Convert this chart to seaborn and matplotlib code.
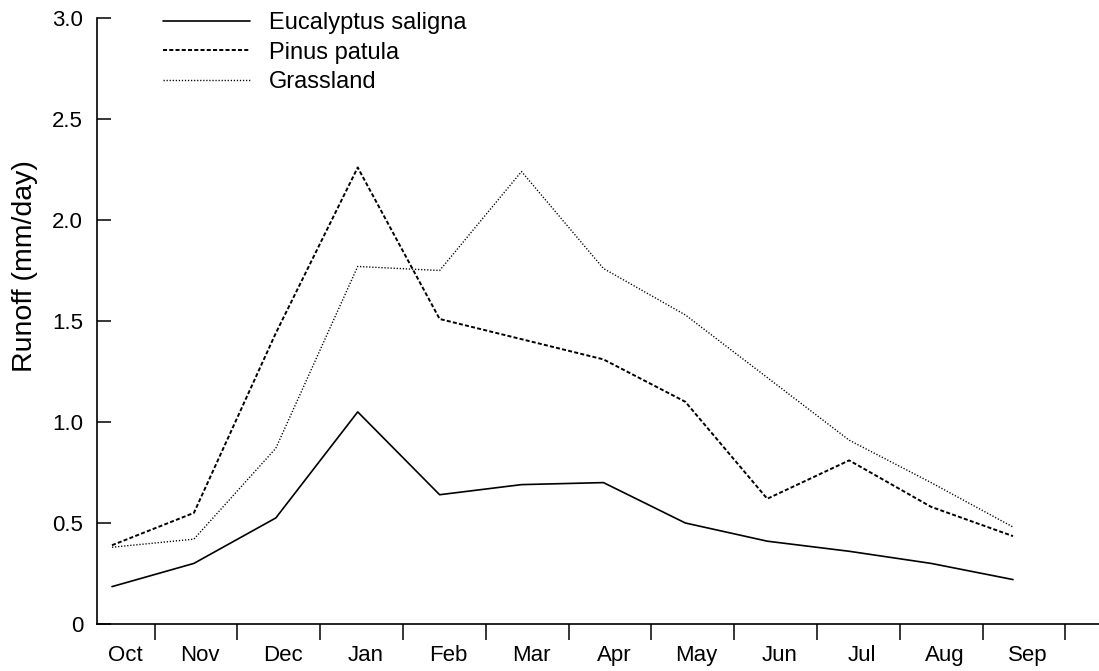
import numpy as np
import pandas as pd
import matplotlib
matplotlib.use("Agg")
import matplotlib.pyplot as plt
import seaborn as sns

# Mean daily runoff per month over the hydrological year (Oct-Sep)
months = ["Oct", "Nov", "Dec", "Jan", "Feb", "Mar", "Apr", "May", "Jun", "Jul", "Aug", "Sep"]
eucalyptus = [0.185, 0.30, 0.525, 1.05, 0.64, 0.69, 0.70, 0.50, 0.41, 0.36, 0.30, 0.22]
pinus = [0.39, 0.55, 1.44, 2.26, 1.51, 1.41, 1.31, 1.10, 0.62, 0.81, 0.58, 0.435]
grassland = [0.38, 0.42, 0.87, 1.77, 1.75, 2.24, 1.76, 1.53, 1.22, 0.91, 0.70, 0.48]
series_names = ["Eucalyptus saligna", "Pinus patula", "Grassland"]
y_ticks = [0, 0.5, 1.0, 1.5, 2.0, 2.5, 3.0]
y_tick_labels = ["0", "0.5", "1.0", "1.5", "2.0", "2.5", "3.0"]

sns.set_theme(style="ticks", rc={
    "text.color": "black", "axes.labelcolor": "black",
    "xtick.color": "black", "ytick.color": "black",
    "axes.edgecolor": "black",
})
plt.rcParams["font.family"] = ["Liberation Sans", "DejaVu Sans"]
plt.rcParams["lines.scale_dashes"] = False

n = len(months)
df = pd.DataFrame({
    "month_idx": np.tile(np.arange(n), 3),
    "runoff": eucalyptus + pinus + grassland,
    "cover": np.repeat(series_names, n),
})

W, H = 1099, 671
fig = plt.figure(figsize=(W / 100, H / 100), dpi=100)
ax = fig.add_axes([97 / W, 47 / H, (W - 97) / W, 606 / H])

line_dashes = {
    "Eucalyptus saligna": "",
    "Pinus patula": (2.9, 1.6),
    "Grassland": (0.9, 1.3),
}
sns.lineplot(data=df, x="month_idx", y="runoff", hue="cover", style="cover",
             palette={s: "black" for s in series_names}, dashes=line_dashes,
             hue_order=series_names, style_order=series_names,
             legend=False, ax=ax)
for line, lw in zip(ax.lines, [1.2, 1.4, 1.0]):
    line.set_linewidth(lw)

# Axes frame: only left and bottom
for side in ["top", "right"]:
    ax.spines[side].set_visible(False)
for side in ["left", "bottom"]:
    ax.spines[side].set_linewidth(1.2)

x_left, x_right = -0.183, 12.05
ax.set_xlim(x_left, x_right)
ax.set_ylim(0, 3.0)

# Month boundary ticks (major) and month names between them (minor)
tick_pos = np.arange(n) * 1.011 + 0.52
label_pos = tick_pos - 0.46
label_pos[0] = (x_left + tick_pos[0]) / 2
ax.set_xticks(tick_pos)
ax.set_xticklabels([])
ax.set_xticks(label_pos, minor=True)
ax.set_xticklabels(months, minor=True)
ax.tick_params(axis="x", which="major", direction="out", length=11.5, width=1.1)
ax.tick_params(axis="x", which="minor", length=0, pad=15, labelsize=16)

ax.set_yticks(y_ticks)
ax.set_yticklabels(y_tick_labels)
ax.tick_params(axis="y", direction="in", length=10, width=1.1, pad=10, labelsize=16)

ax.set_xlabel("")
ax.set_ylabel("Runoff (mm/day)", fontsize=20.5)
ax.yaxis.set_label_coords(-0.059, 0.59)

ax.legend(handles=ax.lines[:3], labels=series_names, loc="upper left",
          bbox_to_anchor=(163 / W, 1 - 12 / H), bbox_transform=fig.transFigure,
          frameon=False, fontsize=17, handlelength=3.69, handletextpad=0.78,
          labelspacing=0.32, borderpad=0, borderaxespad=0)

fig.savefig("out.png", dpi=100)
